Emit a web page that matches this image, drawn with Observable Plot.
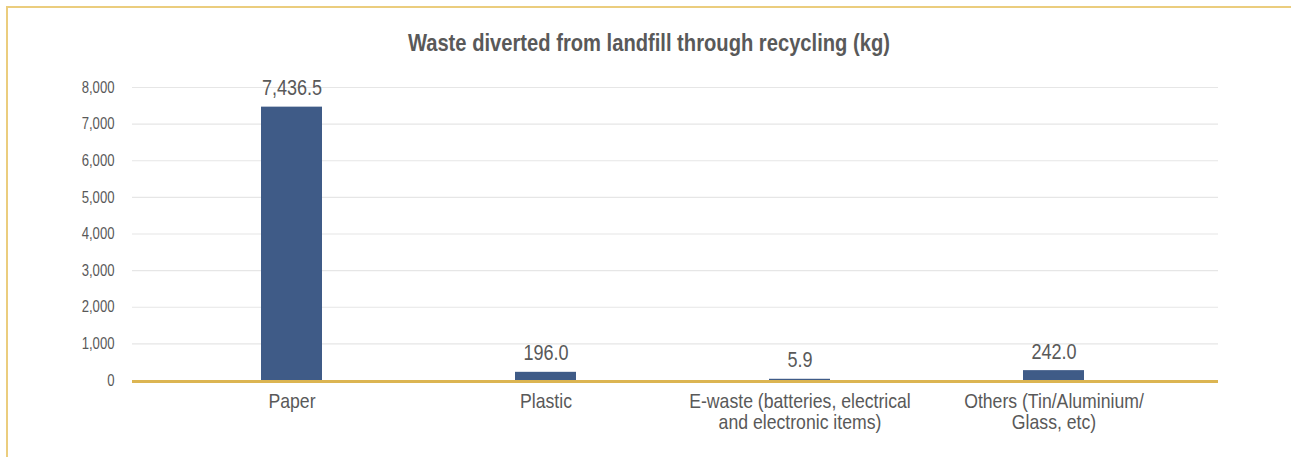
<!DOCTYPE html>
<html>
<head>
<meta charset="utf-8">
<script src="https://cdn.jsdelivr.net/npm/d3@7"></script>
<script src="https://cdn.jsdelivr.net/npm/@observablehq/plot@0.6"></script>
<style>
  html, body { margin: 0; padding: 0; background: #ffffff; }
  body { width: 1291px; height: 457px; position: relative; overflow: hidden;
         font-family: "Liberation Sans", Arial, sans-serif; }
  #frame { position: absolute; left: 6px; top: 6px; width: 1300px; height: 470px;
           border-left: 2px solid #ebcd7e; border-top: 2px solid #ebcd7e; box-sizing: border-box; }
  #title { position: absolute; left: 0; top: 31px; width: 1297px; text-align: center;
           font-size: 24px; line-height: 24px; font-weight: bold; color: #595959; }
  #title span { display: inline-block; transform: scaleX(0.84); transform-origin: center; white-space: nowrap; }
  #chart { position: absolute; left: 0; top: 64px; }
</style>
</head>
<body>
<div id="frame"></div>
<div id="title"><span>Waste diverted from landfill through recycling (kg)</span></div>
<div id="chart"></div>
<script>
const categories = ["Paper", "Plastic", "E-waste", "Others"];
const categoryLabels = ["Paper", "Plastic", "E-waste (batteries, electrical\nand electronic items)", "Others (Tin/Aluminium/\nGlass, etc)"];
const values = [7436.5, 196.0, 5.9, 242.0];
const valueLabels = ["7,436.5", "196.0", "5.9", "242.0"];
const yTicks = [0, 1000, 2000, 3000, 4000, 5000, 6000, 7000, 8000];
const yTickLabels = ["0", "1,000", "2,000", "3,000", "4,000", "5,000", "6,000", "7,000", "8,000"];

const data = categories.map((c, i) => ({cat: c, value: values[i], label: valueLabels[i]}));
const labelOf = new Map(categories.map((c, i) => [c, categoryLabels[i]]));
const yLabelOf = new Map(yTicks.map((t, i) => [t, yTickLabels[i]]));

const font = '"Liberation Sans", Arial, sans-serif';

const chart = Plot.plot({
  width: 1291,
  height: 393,
  marginLeft: 132,
  marginRight: 73,
  marginTop: 23,
  marginBottom: 77,
  style: {fontFamily: font, color: "#595959", background: "transparent"},
  x: {domain: categories, range: [163, 1182], paddingInner: 0.76, paddingOuter: 0.38, axis: null},
  y: {domain: [0, 8000], axis: null},
  marks: [
    Plot.ruleY(yTicks.filter(d => d > 0), {stroke: "#e6e6e6", strokeWidth: 1.2}),
    Plot.axisY(yTicks, {tickSize: 0, tickPadding: 18, fontSize: 16, fill: "#595959",
      tickFormat: d => yLabelOf.get(d), label: null}),
    Plot.ruleY([0], {stroke: "#dcb552", strokeWidth: 3, dy: 1}),
    Plot.barY(data, {x: "cat", y: "value", fill: "#3f5b87", insetTop: -1}),
    Plot.text(data, {x: "cat", y: "value", text: "label", fontSize: 22, fill: "#595959",
      lineAnchor: "bottom", dy: -13}),
    Plot.axisX(categories, {tickSize: 0, tickPadding: 12, fontSize: 21, fill: "#595959",
      lineHeight: 1.02, tickFormat: d => labelOf.get(d), label: null, className: "xlabels"})
  ]
});
document.getElementById("chart").appendChild(chart);

// Emulate a narrow (condensed) face by compressing glyphs horizontally.
chart.querySelectorAll("text").forEach(t => {
  const narrow = t.closest(".xlabels") ? 0.84 : 0.82;
  const spans = t.querySelectorAll("tspan");
  const items = spans.length ? Array.from(spans) : [t];
  items.forEach(el => {
    const len = el.getComputedTextLength();
    if (len > 0) {
      el.setAttribute("textLength", (len * narrow).toFixed(2));
      el.setAttribute("lengthAdjust", "spacingAndGlyphs");
    }
  });
});
</script>
</body>
</html>
